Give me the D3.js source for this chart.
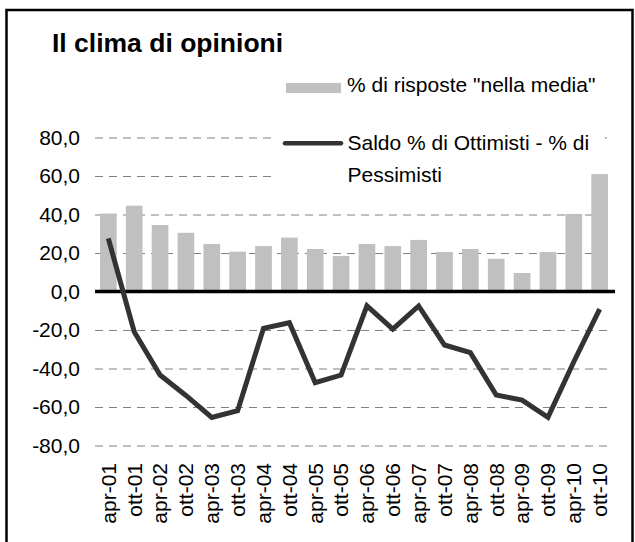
<!DOCTYPE html>
<html>
<head>
<meta charset="utf-8">
<script src="https://cdn.jsdelivr.net/npm/d3@7"></script>
<style>
  body { margin: 0; background: #fff; }
  svg { display: block; font-family: "Liberation Sans", Arial, sans-serif; }
</style>
</head>
<body>
<div id="chart"></div>
<script>
// categories (semesters)
const periods = ["apr-01","ott-01","apr-02","ott-02","apr-03","ott-03","apr-04","ott-04",
  "apr-05","ott-05","apr-06","ott-06","apr-07","ott-07","apr-08","ott-08",
  "apr-09","ott-09","apr-10","ott-10"];

// % di risposte "nella media" (bars)
const nellaMedia = [40.5, 44.6, 34.5, 30.5, 24.7, 20.7, 23.6, 28.0, 22.1, 18.4,
  24.7, 23.6, 26.8, 20.5, 22.1, 17.0, 9.6, 20.5, 40.3, 61.0];

// saldo % ottimisti - % pessimisti (line)
const saldo = [27.6, -20.9, -43.4, -54.0, -65.4, -61.9, -19.1, -16.2, -47.4, -43.4,
  -7.5, -19.6, -7.5, -27.8, -31.8, -53.8, -56.4, -65.4, -36.5, -9.2];

const yTicks = [-80, -60, -40, -20, 0, 20, 40, 60, 80];

const W = 635, H = 542;
const plot = {l: 95, r: 613, t: 137.5, b: 445.5};

const it = d3.formatLocale({decimal: ",", thousands: ".", grouping: [3], currency: ["€", ""], minus: "-"});
const fmt = it.format(".1f");

const svg = d3.select("#chart").append("svg")
  .attr("width", W).attr("height", H);

// outer frame
svg.append("rect")
  .attr("x", 6.5).attr("y", 10)
  .attr("width", 626).attr("height", 540)
  .attr("fill", "#fff").attr("stroke", "#000").attr("stroke-width", 2.5);

// title
svg.append("text")
  .attr("x", 52).attr("y", 52)
  .attr("font-size", 26.5).attr("font-weight", "bold")
  .text("Il clima di opinioni");

const x = d3.scaleBand().domain(periods)
  .range([plot.l, plot.r]).paddingInner(0.355).paddingOuter(0.193);

const y = d3.scaleLinear().domain([-80, 80]).range([plot.b, plot.t]);

// y axis: labels + dashed gridlines
const yAxis = svg.append("g")
  .attr("transform", "translate(" + plot.l + ",0)")
  .call(d3.axisLeft(y).tickValues(yTicks).tickFormat(fmt)
    .tickSizeInner(-(plot.r - plot.l - 1)).tickSizeOuter(0).tickPadding(15));
yAxis.select(".domain").remove();
yAxis.selectAll(".tick line")
  .attr("stroke", "#808080").attr("stroke-dasharray", "8,6")
  .attr("display", d => d === 0 ? "none" : null);
yAxis.selectAll(".tick text")
  .attr("font-size", 21).attr("fill", "#000").attr("font-family", null);

// x axis labels, rotated
const xAxis = svg.append("g")
  .attr("transform", "translate(0," + plot.b + ")")
  .call(d3.axisBottom(x).tickSize(0));
xAxis.select(".domain").remove();
xAxis.selectAll(".tick text")
  .attr("font-size", 21).attr("fill", "#000").attr("font-family", null)
  .attr("transform", "rotate(-90)")
  .attr("text-anchor", "end")
  .attr("x", -17.5).attr("y", 0).attr("dy", "0.35em");

// legend background hides the top gridlines
svg.append("rect")
  .attr("x", 276).attr("y", 68)
  .attr("width", 329).attr("height", 109)
  .attr("fill", "#fff");

// bars
svg.append("g").selectAll("rect")
  .data(nellaMedia)
  .enter().append("rect")
  .attr("x", (d, i) => x(periods[i]))
  .attr("y", d => y(d))
  .attr("width", x.bandwidth())
  .attr("height", d => y(0) - y(d))
  .attr("fill", "#c0c0c0");

// zero line
svg.append("line")
  .attr("x1", plot.l).attr("x2", plot.r + 2)
  .attr("y1", y(0)).attr("y2", y(0))
  .attr("stroke", "#000").attr("stroke-width", 3.3);

// saldo line
const line = d3.line()
  .x((d, i) => x(periods[i]) + x.bandwidth() / 2)
  .y(d => y(d));

svg.append("path")
  .datum(saldo)
  .attr("d", line)
  .attr("fill", "none")
  .attr("stroke", "#333333")
  .attr("stroke-width", 5)
  .attr("stroke-linejoin", "miter");

// legend
const leg = svg.append("g").attr("font-size", 21);

leg.append("rect")
  .attr("x", 286).attr("y", 83)
  .attr("width", 55).attr("height", 10)
  .attr("fill", "#c0c0c0");
leg.append("text").attr("x", 347).attr("y", 92)
  .text("% di risposte \"nella media\"");

leg.append("line")
  .attr("x1", 285).attr("x2", 341)
  .attr("y1", 143.3).attr("y2", 143.3)
  .attr("stroke", "#333333").attr("stroke-width", 4.5)
  .attr("stroke-linecap", "round");
leg.append("text").attr("x", 347.5).attr("y", 150)
  .text("Saldo % di Ottimisti - % di");
leg.append("text").attr("x", 347.5).attr("y", 182)
  .text("Pessimisti");
</script>
</body>
</html>
